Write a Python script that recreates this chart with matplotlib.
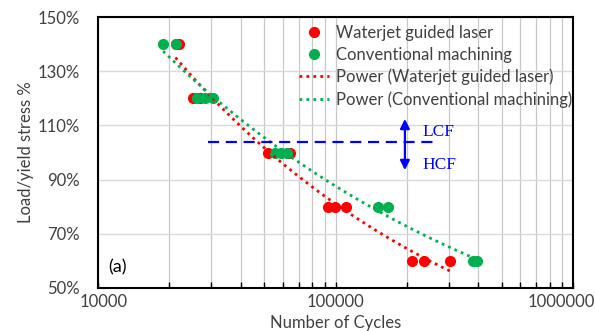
import numpy as np
import matplotlib
matplotlib.use('Agg')
import matplotlib.pyplot as plt
import matplotlib.transforms as mtransforms
from matplotlib.ticker import FuncFormatter, LogLocator, NullFormatter

plt.rcParams['font.family'] = ['Lato', 'DejaVu Sans']

# Waterjet guided laser
wgl_cycles = [21200, 22000, 25100, 27000, 52000, 64300, 92900, 99500, 110700, 210000, 236000, 303000]
wgl_stress = [140, 140, 120, 120, 100, 100, 80, 80, 80, 60, 60, 60]

# Conventional machining
conv_cycles = [18800, 21300, 26100, 28200, 30500, 55600, 59000, 62500, 151000, 166000, 380000, 394000]
conv_stress = [140, 140, 120, 120, 120, 100, 100, 100, 80, 80, 60, 60]

# LCF / HCF boundary
boundary_stress = 103.7
boundary_range = [29000, 262000]

red = '#FF0000'
green = '#00B050'
blue = '#0000FF'
grey_text = '#404040'


def power_fit(x, y):
    # same idea as excel "Power" trendline: straight line in log-log
    b, a = np.polyfit(np.log(x), np.log(y), 1)
    xs = np.geomspace(min(x), max(x), 100)
    return xs, np.exp(a) * xs ** b


fig = plt.figure(figsize=(5.95, 3.31), dpi=100)
ax = fig.add_axes([98 / 595, 1 - 288 / 331, 475 / 595, 271 / 331])

ax.plot(wgl_cycles, wgl_stress, 'o', color=red, markersize=7, label='Waterjet guided laser', zorder=3)
ax.plot(conv_cycles, conv_stress, 'o', color=green, markersize=7, label='Conventional machining', zorder=3)

xs, ys = power_fit(wgl_cycles, wgl_stress)
ax.plot(xs, ys, linestyle=(0, (1, 1.5)), color=red, linewidth=2, label='Power (Waterjet guided laser)', zorder=4)
xs, ys = power_fit(conv_cycles, conv_stress)
ax.plot(xs, ys, linestyle=(0, (1, 1.5)), color=green, linewidth=2, label='Power (Conventional machining)', zorder=4)

# LCF / HCF marker
ax.plot(boundary_range, [boundary_stress, boundary_stress], linestyle=(0, (5, 3)), color=blue, linewidth=1.6, zorder=5)
ax.annotate('', xy=(196000, 112.4), xytext=(196000, 93.5),
            arrowprops=dict(arrowstyle='<|-|>', color=blue, lw=1.6, mutation_scale=14, shrinkA=0, shrinkB=0),
            zorder=5)
ax.text(232000, 107.6, 'LCF', color=blue, fontsize=12.5, family='Liberation Serif', va='center', ha='left')
ax.text(232000, 95.4, 'HCF', color=blue, fontsize=12.5, family='Liberation Serif', va='center', ha='left')
ax.text(0.021, 0.075, '(a)', transform=ax.transAxes, fontsize=13, va='center', ha='left', color='black')

ax.set_xscale('log')
ax.set_xlim(10000, 1000000)
ax.set_ylim(50, 150)
ax.set_xticks([10000, 100000, 1000000])
ax.set_yticks([50, 70, 90, 110, 130, 150])
ax.yaxis.set_major_formatter(FuncFormatter(lambda v, p: f'{v:.0f}%'))
ax.xaxis.set_major_formatter(FuncFormatter(lambda v, p: f'{v:.0f}'))
ax.xaxis.set_minor_locator(LogLocator(base=10, subs=np.arange(2, 10)))
ax.xaxis.set_minor_formatter(NullFormatter())

ax.grid(True, axis='y', which='major', color='#D9D9D9', linewidth=1)
ax.grid(True, axis='x', which='both', color='#C8C8C8', linewidth=0.9)
ax.set_axisbelow(True)

ax.tick_params(axis='x', which='both', direction='in', length=4, width=1, top=False, labelsize=12, pad=4,
               labelcolor=grey_text)
ax.tick_params(axis='y', which='both', length=0, labelsize=12, pad=13, labelcolor=grey_text)
for s in ax.spines.values():
    s.set_color('black')
    s.set_linewidth(1.5)

# excel nudges the end labels inwards
xticks = ax.xaxis.get_major_ticks()
lbl = xticks[0].label1
lbl.set_transform(lbl.get_transform() + mtransforms.ScaledTranslation(6 / 100, 0, fig.dpi_scale_trans))
lbl = xticks[-1].label1
lbl.set_transform(lbl.get_transform() + mtransforms.ScaledTranslation(-12 / 100, 0, fig.dpi_scale_trans))

ax.set_xlabel('Number of Cycles', fontsize=12, color=grey_text, labelpad=4)
ax.set_ylabel('Load/yield stress %', fontsize=12, color=grey_text, labelpad=3)

ax.legend(loc='upper left', bbox_to_anchor=(298.5 / 595, 1 - 25 / 331), bbox_transform=fig.transFigure,
          frameon=False, fontsize=12, handlelength=1.8, handletextpad=0.45, labelspacing=0.35,
          borderpad=0, borderaxespad=0, labelcolor=grey_text)

fig.savefig('out.png', dpi=100)
